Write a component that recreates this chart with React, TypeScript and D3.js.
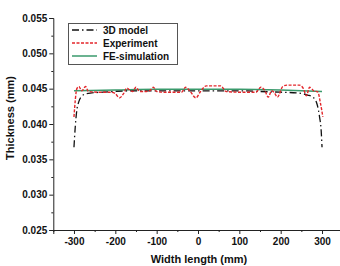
import React, { useEffect, useRef } from "react";
import * as d3 from "d3";

// width position (mm) and thickness (mm) for each series
const modelX = [-300, -297, -293, -288, -280, -270, -257, -230, -200, -150, -100, -50, 0, 50, 100, 150, 200, 240, 265, 278, 288, 294, 298, 300];
const modelY = [0.0367, 0.0395, 0.042, 0.0432, 0.044, 0.0443, 0.0444, 0.0445, 0.0446, 0.0447, 0.0447, 0.0447, 0.0447, 0.0447, 0.0447, 0.0446, 0.0445, 0.0444, 0.0441, 0.0438, 0.0428, 0.041, 0.039, 0.0367];

const expX = [-300, -293, -288, -281, -272, -265, -240, -210, -200, -190, -180, -172, -165, -158, -150, -141, -125, -115, -108, -100, -80, -40, -30, -20, -5, 5, 20, 55, 68, 100, 140, 152, 162, 170, 178, 184, 192, 205, 215, 245, 255, 262, 270, 280, 290, 296, 302];
const expY = [0.041, 0.045, 0.0453, 0.0447, 0.0453, 0.0446, 0.0445, 0.0445, 0.0443, 0.0437, 0.0443, 0.0451, 0.0448, 0.0446, 0.0452, 0.0446, 0.0446, 0.0448, 0.0452, 0.0446, 0.0445, 0.0445, 0.0452, 0.0447, 0.0437, 0.0445, 0.0454, 0.0454, 0.0446, 0.0445, 0.0445, 0.0452, 0.0447, 0.0438, 0.0447, 0.0445, 0.0438, 0.0453, 0.0455, 0.0455, 0.045, 0.044, 0.0452, 0.0447, 0.0445, 0.043, 0.041];

const feX = [-300, -200, -100, 0, 100, 200, 300];
const feY = [0.0447, 0.0448, 0.0449, 0.0449, 0.0449, 0.0448, 0.0446];

const xTicks = [-300, -200, -100, 0, 100, 200, 300];
const xMinor = [-350, -250, -150, -50, 50, 150, 250, 350];
const yTicks = [0.025, 0.03, 0.035, 0.04, 0.045, 0.05, 0.055];
const yMinor = [0.0275, 0.0325, 0.0375, 0.0425, 0.0475, 0.0525];

const legendItems = [
  { label: "3D model", color: "#111", dash: "7,3,1.5,3", width: 1.3 },
  { label: "Experiment", color: "#e3262b", dash: "3,1.5", width: 1.4 },
  { label: "FE-simulation", color: "#3a9a6c", dash: null, width: 1.5 },
];

const W = 340;
const H = 266;
const FONT = "'Liberation Sans', Arial, sans-serif";

const App: React.FC = () => {
  const svgRef = useRef<SVGSVGElement | null>(null);

  useEffect(() => {
    if (!svgRef.current) return;
    const svg = d3.select(svgRef.current);
    svg.selectAll("*").remove();

    const x = d3.scaleLinear().domain([-350, 350]).range([53.3, 342.7]);
    const y = d3.scaleLinear().domain([0.025, 0.055]).range([230, 18]);

    const axes = svg.append("g").attr("font-family", FONT).attr("font-weight", "bold");

    // y axis
    const yAxis = axes
      .append("g")
      .attr("transform", `translate(${x(-350)},0)`)
      .call(d3.axisLeft(y).tickValues(yTicks).tickSize(4).tickPadding(2).tickFormat(d3.format(".3f")));
    yAxis.selectAll("text").attr("font-size", 10).attr("fill", "#111");
    yAxis
      .append("g")
      .call(d3.axisLeft(y).tickValues(yMinor).tickSize(2).tickFormat(() => ""))
      .select(".domain")
      .remove();

    // x axis, plain hyphen for negatives
    const xAxis = axes
      .append("g")
      .attr("transform", `translate(0,${y(0.025)})`)
      .call(
        d3
          .axisBottom(x)
          .tickValues(xTicks)
          .tickSize(4)
          .tickPadding(4)
          .tickFormat((d) => String(d))
      );
    xAxis.selectAll("text").attr("font-size", 10).attr("fill", "#111");
    xAxis
      .append("g")
      .call(d3.axisBottom(x).tickValues(xMinor).tickSize(2).tickFormat(() => ""))
      .select(".domain")
      .remove();

    axes.selectAll(".domain, .tick line").attr("stroke", "#222").attr("stroke-width", 1);

    axes
      .append("text")
      .attr("transform", `translate(14,118) rotate(-90)`)
      .attr("text-anchor", "middle")
      .attr("font-size", 11)
      .attr("fill", "#111")
      .text("Thickness (mm)");

    axes
      .append("text")
      .attr("x", 199)
      .attr("y", 263)
      .attr("text-anchor", "middle")
      .attr("font-size", 11)
      .attr("fill", "#111")
      .text("Width length (mm)");

    // series
    const series = [
      { xs: modelX, ys: modelY, style: legendItems[0] },
      { xs: expX, ys: expY, style: legendItems[1] },
      { xs: feX, ys: feY, style: legendItems[2] },
    ];

    const line = d3
      .line<[number, number]>()
      .x((d) => x(d[0]))
      .y((d) => y(d[1]))
      .curve(d3.curveMonotoneX);

    // draw green first so the others sit on top
    [series[2], series[0], series[1]].forEach((s) => {
      const pts = s.xs.map((v, i) => [v, s.ys[i]] as [number, number]);
      svg
        .append("path")
        .datum(pts)
        .attr("fill", "none")
        .attr("stroke", s.style.color)
        .attr("stroke-width", s.style.width)
        .attr("stroke-dasharray", s.style.dash ?? null)
        .attr("d", line);
    });

    // legend
    const legend = svg.append("g").attr("transform", "translate(68,23)");
    legend
      .append("rect")
      .attr("x", 0.5)
      .attr("y", 0.5)
      .attr("width", 109)
      .attr("height", 41)
      .attr("fill", "white")
      .attr("stroke", "#555")
      .attr("stroke-width", 1);

    legendItems.forEach((item, i) => {
      const cy = 7 + i * 13;
      legend
        .append("line")
        .attr("x1", 4)
        .attr("x2", 29)
        .attr("y1", cy)
        .attr("y2", cy)
        .attr("stroke", item.color)
        .attr("stroke-width", item.width)
        .attr("stroke-dasharray", item.dash ?? null);
      legend
        .append("text")
        .attr("x", 35)
        .attr("y", cy)
        .attr("dy", "0.35em")
        .attr("font-family", FONT)
        .attr("font-weight", "bold")
        .attr("font-size", 10)
        .attr("fill", "#111")
        .text(item.label);
    });
  }, []);

  return (
    <svg
      ref={svgRef}
      width={W}
      height={H}
      style={{ position: "fixed", left: 0, top: 0, background: "white" }}
    />
  );
};

export default App;
